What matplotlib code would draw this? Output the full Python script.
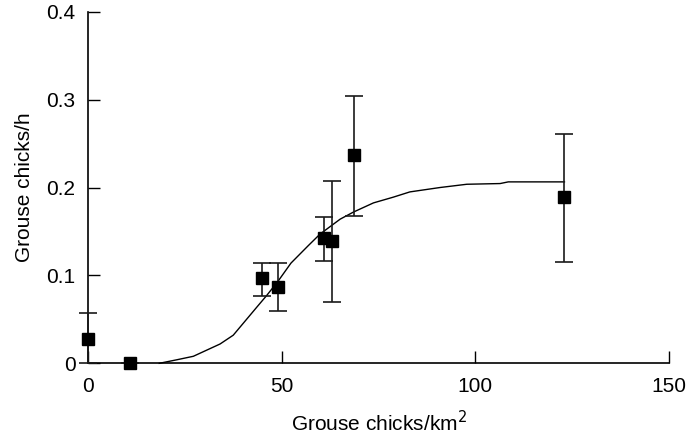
import matplotlib
matplotlib.use("Agg")
import matplotlib.pyplot as plt

plt.rcParams['font.family'] = ['Liberation Sans', 'DejaVu Sans']

# Observed data points
density = [0.0, 10.8, 44.8, 49.0, 60.9, 63.1, 68.7, 123.0]
rate = [0.028, 0.0, 0.097, 0.087, 0.142, 0.139, 0.237, 0.189]
err_low = [0.028, 0.0, 0.020, 0.028, 0.026, 0.069, 0.069, 0.074]
err_high = [0.029, 0.0, 0.017, 0.027, 0.024, 0.068, 0.067, 0.072]

# Fitted curve
curve_x = [18.4, 22.9, 27.2, 34.1, 37.5, 43.6, 46.1, 49.0, 52.4, 56.9, 59.9,
           65.1, 68.5, 73.7, 78.8, 83.1, 90.9, 97.8, 106.4, 108.5, 123.0]
curve_y = [0.0, 0.004, 0.008, 0.022, 0.032, 0.064, 0.077, 0.093, 0.114, 0.134,
           0.147, 0.164, 0.172, 0.1825, 0.189, 0.195, 0.200, 0.2037, 0.2045,
           0.2064, 0.2064]

xticks = [0, 50, 100, 150]
yticks = [0, 0.1, 0.2, 0.3, 0.4]
ytick_labels = ['0', '0.1', '0.2', '0.3', '0.4']

fig = plt.figure(figsize=(6.88, 4.38), dpi=100)
ax = fig.add_axes([0.1279, 0.1705, 0.8445, 0.8028])

ax.plot(curve_x, curve_y, color='black', lw=1.0, zorder=2)

yerr = [err_low, err_high]
ax.errorbar(density, rate, yerr=yerr, fmt='s', color='black', ms=8.6,
            ecolor='#1a1a1a', elinewidth=1.2, capsize=6.5, capthick=1.2,
            clip_on=False, zorder=3)
for art in ax.collections + ax.lines:
    art.set_clip_on(False)

ax.set_xlim(0, 150)
ax.set_ylim(0, 0.4)
ax.set_xticks(xticks)
ax.set_xticklabels([str(t) for t in xticks])
ax.set_yticks(yticks)
ax.set_yticklabels(ytick_labels)

for s in ['top', 'right']:
    ax.spines[s].set_visible(False)
for s in ['left', 'bottom']:
    ax.spines[s].set_linewidth(1.2)

ax.tick_params(axis='both', direction='in', length=8.5, width=1.0,
               labelsize=15)
ax.tick_params(axis='x', pad=10)
ax.tick_params(axis='y', pad=9)

ax.set_xlabel('Grouse chicks/km$^2$', fontsize=15, labelpad=10)
ax.set_ylabel('Grouse chicks/h', fontsize=15, labelpad=9)

fig.savefig('out.png', dpi=100)
